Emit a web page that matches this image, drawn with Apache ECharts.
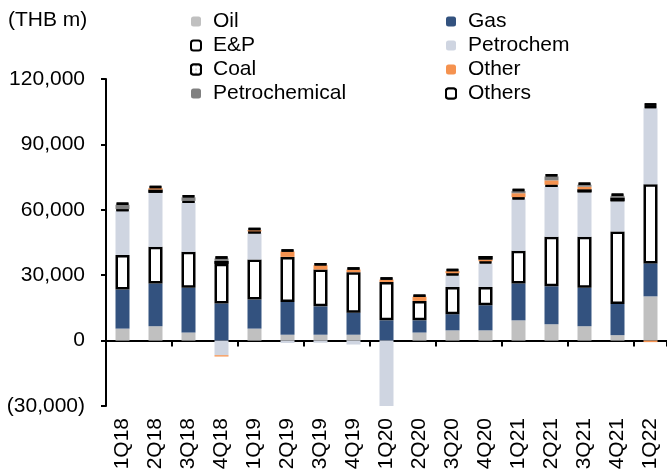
<!DOCTYPE html>
<html>
<head>
<meta charset="utf-8">
<script src="https://cdn.jsdelivr.net/npm/echarts@6/dist/echarts.min.js"></script>
<style>
  html, body { margin: 0; padding: 0; background: #ffffff; }
  #chart { width: 667px; height: 474px; }
</style>
</head>
<body>
<div id="chart"></div>
<script>
// Quarterly EBITDA by business segment (THB m)
const quarters = ['1Q18', '2Q18', '3Q18', '4Q18', '1Q19', '2Q19', '3Q19', '4Q19',
                  '1Q20', '2Q20', '3Q20', '4Q20', '1Q21', '2Q21', '3Q21', '4Q21', '1Q22'];

const oil           = [5500, 6600, 3700, null, 5500, 2700, 2700, 2700, null, 3700, 4700, 4700, 9300, 7500, 6600, 2500, 20300];
const gas           = [17900, 19600, 20500, 17000, 13300, 15000, 13000, 10100, 9300, 5600, 7400, 11500, 16900, 17400, 17600, 14300, 15100];
const exploration   = [15900, 16800, 16500, 18200, 18400, 20700, 16900, 18600, 17600, 8900, 12500, 8400, 15000, 22700, 23400, 33300, 36300];
const petrochem     = [20200, 24800, 22500, -6700, 12200, -1100, -1000, -1800, -30400, null, 5400, 10800, 23700, 23000, 20400, 13800, 34900];
const coal          = [800, 1500, 900, 1300, 700, null, null, null, null, null, 900, 1000, 900, 900, 1400, 1700, 1100];
const other         = [null, 700, null, -600, 600, 2500, 2000, 1200, 1100, 1900, 1000, 800, 1800, 2000, 1200, null, -700];
const petrochemical = [2000, null, 1600, 1200, null, null, null, null, null, null, null, null, 1000, 1800, 900, 800, null];
const others        = [1000, 1000, 1000, 900, 900, 900, 900, 900, 900, 900, 1000, 1600, 1000, 1000, 1000, 1000, 1100];

const yMin = -30000, yMax = 120000, yStep = 30000;

const FONT = '"Liberation Sans", Arial, Helvetica, sans-serif';
const OUTLINE = { color: '#ffffff', borderColor: '#000000', borderWidth: 2.5 };

function bar(name, data, itemStyle) {
  return {
    name: name,
    type: 'bar',
    stack: 'segments',
    barWidth: 14,
    xAxisIndex: 0,
    data: data,
    itemStyle: itemStyle,
    emphasis: { disabled: true }
  };
}

const series = [
  bar('Oil', oil, { color: '#c0c0c0' }),
  bar('Gas', gas, { color: '#33527f' }),
  bar('E&P', exploration, OUTLINE),
  bar('Petrochem', petrochem, { color: '#cfd5e1' }),
  bar('Coal', coal, Object.assign({}, OUTLINE, {
    decal: { symbol: 'rect', symbolSize: 0.5, dashArrayX: [2, 2], dashArrayY: [2, 2], color: '#555555', backgroundColor: '#ffffff' }
  })),
  bar('Other', other, { color: '#f5924f' }),
  bar('Petrochemical', petrochemical, { color: '#808080' }),
  bar('Others', others, Object.assign({}, OUTLINE, {
    decal: { symbol: 'none', dashArrayX: [1, 0], dashArrayY: [1, 3], rotation: -Math.PI / 4, color: '#000000', backgroundColor: '#ffffff' }
  }))
];

function fmt(v) {
  const s = Math.abs(v).toLocaleString('en-US');
  return v < 0 ? '(' + s + ')' : s;
}

const legendText = { fontSize: 21, fontFamily: FONT, color: '#000', lineHeight: 21, padding: [0, 0, 0, 7] };

const chart = echarts.init(document.getElementById('chart'), null, { renderer: 'canvas' });
chart.setOption({
  animation: false,
  backgroundColor: '#ffffff',
  title: {
    text: '(THB m)',
    left: 3,
    top: 5,
    textStyle: { fontSize: 21, fontWeight: 'normal', fontFamily: FONT, color: '#000' }
  },
  legend: [
    {
      data: ['Oil', 'E&P', 'Coal', 'Petrochemical'],
      orient: 'vertical',
      left: 185, top: 6,
      itemWidth: 10, itemHeight: 10, itemGap: 3,
      selectedMode: false,
      textStyle: legendText
    },
    {
      data: ['Gas', 'Petrochem', 'Other', 'Others'],
      orient: 'vertical',
      left: 440, top: 6,
      itemWidth: 10, itemHeight: 10, itemGap: 3,
      selectedMode: false,
      textStyle: legendText
    }
  ],
  grid: { left: 106, right: 0, top: 79, bottom: 68, containLabel: false, outerBoundsMode: 'none' },
  xAxis: [
    {
      type: 'category',
      data: quarters,
      axisLine: { onZero: true, lineStyle: { color: '#000', width: 2 } },
      axisTick: { show: true, length: 6, lineStyle: { color: '#000', width: 2 } },
      axisLabel: { show: false }
    },
    {
      type: 'category',
      data: quarters,
      position: 'bottom',
      axisLine: { show: false, onZero: false },
      axisTick: { show: false },
      axisLabel: { rotate: 90, fontSize: 21, fontFamily: FONT, color: '#000', margin: 12 }
    }
  ],
  yAxis: {
    type: 'value',
    min: yMin, max: yMax, interval: yStep,
    axisLine: { show: true, lineStyle: { color: '#000', width: 2 } },
    axisTick: { show: true, length: 5, lineStyle: { color: '#000', width: 2 } },
    splitLine: { show: false },
    axisLabel: { fontSize: 21, fontFamily: FONT, color: '#000', margin: 21, formatter: fmt }
  },
  series: series
});
</script>
</body>
</html>
